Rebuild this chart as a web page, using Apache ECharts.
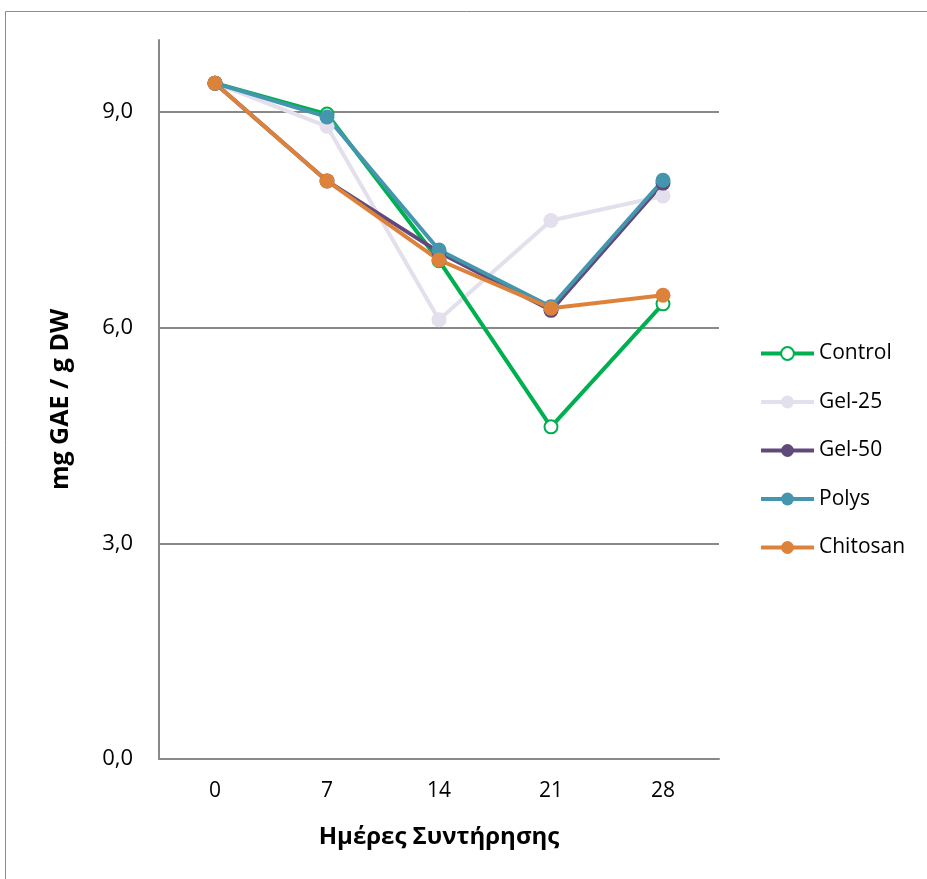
<!DOCTYPE html>
<html>
<head>
<meta charset="utf-8">
<script src="https://cdn.jsdelivr.net/npm/echarts@6/dist/echarts.min.js"></script>
<style>
  html, body { margin: 0; padding: 0; background: #fff; }
  #chart { width: 927px; height: 879px; }
</style>
</head>
<body>
<div id="chart"></div>
<script>
// Storage days and phenolic content per coating treatment
const days = ['0', '7', '14', '21', '28'];
const control = [9.40, 8.97, 6.93, 4.62, 6.33];
const gel25 = [9.40, 8.80, 6.11, 7.49, 7.83];
const gel50 = [9.40, 8.04, 7.05, 6.24, 8.01];
const polys = [9.40, 8.93, 7.08, 6.29, 8.05];
const chitosan = [9.40, 8.04, 6.94, 6.27, 6.45];

const yTicks = [0, 3, 6, 9];

const font = 'Open Sans, Liberation Sans, sans-serif';

function lineSeries(name, data, color, hollow) {
  return {
    name: name,
    type: 'line',
    data: data,
    symbol: hollow ? 'emptyCircle' : 'circle',
    symbolSize: hollow ? 13 : 15,
    lineStyle: { width: 4, color: color },
    itemStyle: hollow
      ? { color: color, borderColor: color, borderWidth: 2 }
      : { color: color, borderWidth: 0 },
    emphasis: { disabled: true },
    z: 2
  };
}

const chart = echarts.init(document.getElementById('chart'), null, { renderer: 'canvas' });
chart.setOption({
  animation: false,
  backgroundColor: '#fff',
  graphic: [{
    type: 'rect',
    shape: { x: 5.5, y: 11.5, width: 940, height: 900 },
    style: { fill: 'none', stroke: '#8c8c8c', lineWidth: 1 },
    z: -1
  }],
  grid: { left: 159, right: 208, top: 40, bottom: 120 },
  legend: {
    orient: 'vertical',
    left: 759,
    top: 343,
    padding: 0,
    itemWidth: 53,
    itemHeight: 16,
    itemGap: 27.5,
    lineStyle: { width: 4 },
    textStyle: { fontFamily: font, fontSize: 21, color: '#000', padding: [0, 0, 0, 0] },
    data: ['Control', 'Gel-25', 'Gel-50', 'Polys', 'Chitosan']
  },
  xAxis: {
    type: 'category',
    data: days,
    boundaryGap: true,
    axisLine: { lineStyle: { color: '#898989', width: 2 } },
    axisTick: { show: false },
    axisLabel: { fontFamily: font, fontSize: 21, color: '#000', margin: 22 },
    name: 'Ημέρες Συντήρησης',
    nameLocation: 'middle',
    nameGap: 66,
    nameTextStyle: { fontFamily: font, fontSize: 24, fontWeight: 'bold', color: '#000' }
  },
  yAxis: {
    type: 'value',
    min: 0,
    max: 10,
    interval: 3,
    axisLine: { show: true, lineStyle: { color: '#898989', width: 2 } },
    axisTick: { show: false },
    splitLine: { show: true, showMaxLine: false, showMinLine: false, lineStyle: { color: '#898989', width: 2 } },
    axisLabel: {
      fontFamily: font, fontSize: 22, color: '#000', margin: 26,
      showMaxLabel: false,
      formatter: function (v) {
        return yTicks.indexOf(v) >= 0 ? v.toFixed(1).replace('.', ',') : '';
      }
    },
    name: 'mg GAE / g DW',
    nameLocation: 'middle',
    nameGap: 86,
    nameRotate: 90,
    nameTextStyle: { fontFamily: font, fontSize: 25, fontWeight: 'bold', color: '#000' }
  },
  series: [
    lineSeries('Gel-25', gel25, '#E4DFEC'),
    lineSeries('Control', control, '#00B050', true),
    lineSeries('Gel-50', gel50, '#604A7B'),
    lineSeries('Polys', polys, '#4396AE'),
    lineSeries('Chitosan', chitosan, '#DD823B')
  ]
});
</script>
</body>
</html>
